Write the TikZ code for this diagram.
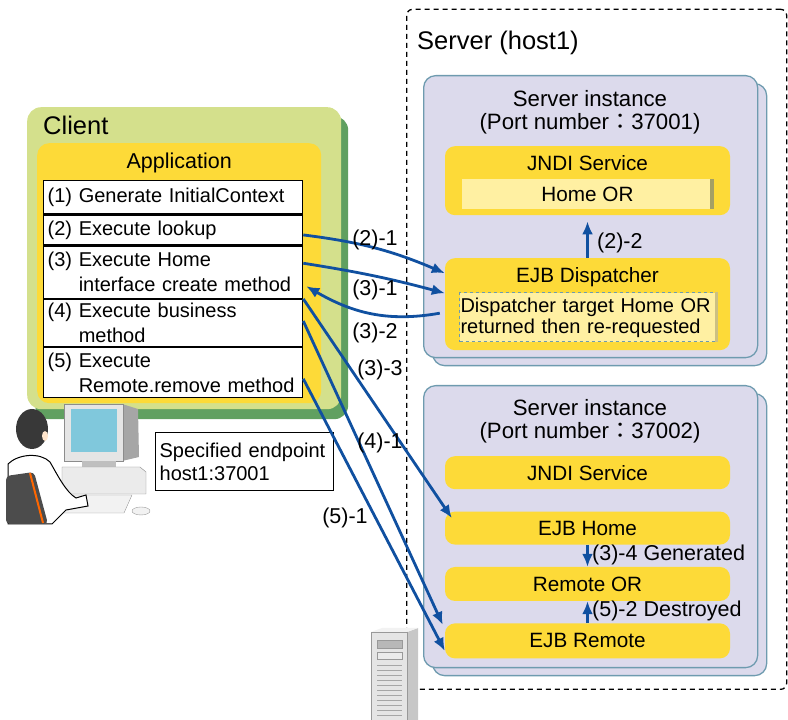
\documentclass[tikz,border=0pt]{standalone}
\usepackage{fontspec}
\setmainfont{Liberation Sans}
\newfontfamily\cjk{Noto Sans CJK JP}
\usetikzlibrary{positioning,arrows.meta}

\definecolor{partyellow}{HTML}{FDDA38}
\definecolor{orfill}{HTML}{FFF0A2}
\definecolor{lavender}{HTML}{DCDAEC}
\definecolor{instline}{HTML}{6E9BAF}
\definecolor{clientlight}{HTML}{D4E08C}
\definecolor{clientdark}{HTML}{60A060}
\definecolor{flowblue}{HTML}{1050A0}
\definecolor{screenblue}{HTML}{80C8DC}

\begin{document}
\begin{tikzpicture}[x=1pt, y=1pt, font=\fontsize{20}{25}\selectfont]
    \tikzstyle{instance}=[rectangle, rounded corners=12pt, draw=instline, fill=lavender, line width=1.3pt, minimum width=334pt, minimum height=282pt, anchor=north west]
    \tikzstyle{part}=[rectangle, rounded corners=10pt, fill=partyellow, minimum width=285pt, inner sep=0pt, font=\fontsize{20.7}{25}\selectfont]
    \tikzstyle{orbox}=[rectangle, fill=orfill, inner sep=0pt]
    \tikzstyle{row}=[rectangle, draw=black, fill=white, line width=1.3pt, text width=251pt, inner xsep=4pt, inner ysep=0pt, align=left, anchor=north west]
    \tikzstyle{tag}=[inner sep=0pt, font=\fontsize{21.5}{25}\selectfont]
    \tikzstyle{connect}=[-{Latex[length=13pt,width=11pt]}, line width=2.8pt, flowblue]

    \useasboundingbox (0,0) rectangle (788,720);

    % server machine
    \node[draw, dashed, dash pattern=on 5pt off 4pt, line width=1.3pt, rounded corners=6pt, minimum width=380pt, minimum height=680pt, anchor=south west] (server) at (406,30) {};
    \node[tag, anchor=west, font=\fontsize{25.5}{30}\selectfont] (serverlabel) at (417,677) {Server (host1)};

    % first instance
    \node[instance] (inst1back) at (432,637) {};
    \node[instance] (inst1) at (423,645) {};
    \node[tag, align=center, font=\fontsize{22.2}{23}\selectfont] (inst1title) at (590,608) {Server instance\\(Port number{\cjk ：}37001)};
    \node[part, minimum height=69pt, anchor=north] (jndi1) at (587.5,574) {};
    \node[tag, font=\fontsize{20.7}{25}\selectfont, below=9pt of jndi1.north] (jndi1title) {JNDI Service};
    \node[orbox, minimum width=252pt, minimum height=30pt, anchor=south, font=\fontsize{20.7}{25}\selectfont] (homeor) at ([yshift=6pt]jndi1.south) {Home OR};
    \fill[black!35!olive!60] (homeor.north east) rectangle ([xshift=-4pt]homeor.south east);
    \node[part, minimum height=92pt, anchor=north] (disp) at (587.5,462) {};
    \node[tag, font=\fontsize{20.7}{25}\selectfont, below=9pt of disp.north] (disptitle) {EJB Dispatcher};
    \node[orbox, draw=instline, dashed, line width=1pt, text width=256pt, inner xsep=1pt, minimum height=49pt, align=left, anchor=south, font=\fontsize{20}{21}\selectfont] (dispnote) at ([xshift=1pt,yshift=8pt]disp.south) {Dispatcher target Home OR\\returned then re-requested};
    \fill[black!20!orfill] (dispnote.north east) rectangle ([xshift=-3pt]dispnote.south east);

    % second instance
    \node[instance] (inst2back) at (432,327) {};
    \node[instance] (inst2) at (423,335) {};
    \node[tag, align=center, font=\fontsize{22.2}{23}\selectfont] (inst2title) at (590,299) {Server instance\\(Port number{\cjk ：}37002)};
    \node[part, minimum height=33pt, anchor=north] (jndi2) at (587.5,264) {JNDI Service};
    \node[part, minimum height=33pt, below=22pt of jndi2] (ejbhome) {EJB Home};
    \node[part, minimum height=34pt, below=22pt of ejbhome] (remoteor) {Remote OR};
    \node[part, minimum height=35pt, below=22pt of remoteor] (ejbremote) {EJB Remote};

    % client machine
    \node[rectangle, rounded corners=14pt, fill=clientdark, minimum width=313pt, minimum height=303pt, anchor=north west] (clientback) at (35,604) {};
    \node[rectangle, rounded corners=14pt, fill=clientlight, minimum width=314pt, minimum height=302pt, anchor=north west] (client) at (27,613) {};
    \node[tag, anchor=west, font=\fontsize{25.5}{30}\selectfont] (clientlabel) at (43,595) {Client};
    \node[rectangle, rounded corners=12pt, fill=partyellow, minimum width=284pt, minimum height=260pt, anchor=north west] (app) at (37,577) {};
    \node[tag, below=10pt of app.north] (apptitle) {Application};

    \node[row, minimum height=33pt] (row1) at (43,540) {(1) Generate InitialContext};
    \node[row, minimum height=30pt, below=0pt of row1] (row2) {(2) Execute lookup};
    \node[row, minimum height=52pt, below=0pt of row2] (row3) {(3) Execute Home\\\hphantom{(3) }interface create method};
    \node[row, minimum height=47pt, below=0pt of row3] (row4) {(4) Execute business\\\hphantom{(4) }method};
    \node[row, minimum height=50pt, below=0pt of row4] (row5) {(5) Execute\\\hphantom{(5) }Remote.remove method};

    \node[draw, fill=white, line width=1.3pt, text width=170pt, inner xsep=4pt, minimum height=58pt, align=left, anchor=north west, font=\fontsize{20}{23}\selectfont] (endpoint) at (155,288) {Specified endpoint\\host1:37001};

    % user at the terminal
    \fill[black!35] (122,316) -- (138,311) -- (139,263) -- (122,259) -- cycle;
    \draw[fill=black!10, draw=black!45] (64,316) rectangle (123,259);
    \fill[screenblue] (71,311) rectangle (117,268);
    \fill[black!25] (82,259) rectangle (116,253);
    \draw[fill=black!8, draw=black!45] (62,253) -- (140,253) -- (146,248) -- (146,226) -- (62,226) -- cycle;
    \draw[fill=black!5, draw=black!40] (70,225) -- (132,225) -- (124,207) -- (60,207) -- cycle;
    \draw[fill=black!5, draw=black!40] (141,209) ellipse (9pt and 4pt);
    \draw[fill=white, line width=1pt] (8,256) .. controls (18,266) and (40,268) .. (50,258) .. controls (58,244) and (66,228) .. (76,222) -- (86,225) -- (88,214) -- (66,210) -- (52,196) -- (8,196) -- cycle;
    \fill[black!70, rounded corners=4pt] (6,244) -- (34,248) -- (48,196) -- (6,196) -- cycle;
    \draw[orange!80!red, line width=2pt] (30,247) -- (43,197);
    \fill[black!78] (32,291) ellipse (16pt and 20pt);
    \fill[orange!20] (45,284) ellipse (3pt and 5pt);

    % server box in the corner
    \fill[black!22] (407,0) -- (407,88) -- (418,92) -- (418,0) -- cycle;
    \fill[black!5] (371,88) -- (382,92) -- (418,92) -- (407,88) -- cycle;
    \draw[fill=black!10, draw=black!40] (371,0) rectangle (407,88);
    \draw[fill=black!28, draw=black!40] (377,80) rectangle (402,72);
    \draw[fill=black!8, draw=black!40] (377,68) rectangle (402,61);
    \foreach \v in {5,10,...,55}
      \draw[black!35] (377,\v) -- (402,\v);

    % calls between client and server
    \path
      ([yshift=-5pt]row2.east) edge [connect, bend left=8] ([yshift=31pt]disp.west)
      ([yshift=9pt]row3.east) edge [connect, bend left=3] ([yshift=11pt]disp.west)
      ([xshift=-5pt,yshift=-9pt]disp.west) edge [connect, out=190, in=-30] ([xshift=3pt,yshift=-14pt]row3.east)
      (row3.south east) edge [connect] ([xshift=7pt,yshift=10pt]ejbhome.west)
      ([yshift=2pt]row4.east) edge [connect] ([xshift=-2pt,yshift=16pt]ejbremote.west)
      ([yshift=-6pt]row5.east) edge [connect] ([yshift=-10pt]ejbremote.west)
      (disp.north) edge [connect] ([yshift=-6pt]jndi1.south)
      (ejbhome.south) edge [connect] (remoteor.north)
      (ejbremote.north) edge [connect] (remoteor.south);

    \node[tag] (l21) at (375,480) {(2)-1};
    \node[tag] (l31) at (375,430) {(3)-1};
    \node[tag] (l32) at (375,387) {(3)-2};
    \node[tag] (l33) at (380,350) {(3)-3};
    \node[tag] (l41) at (380,277) {(4)-1};
    \node[tag] (l51) at (345,202) {(5)-1};
    \node[tag, anchor=west] (l22) at (597,477) {(2)-2};
    \node[tag, anchor=west] (l34) at (592,165) {(3)-4 Generated};
    \node[tag, anchor=west] (l52) at (592,109) {(5)-2 Destroyed};
\end{tikzpicture}
\end{document}
